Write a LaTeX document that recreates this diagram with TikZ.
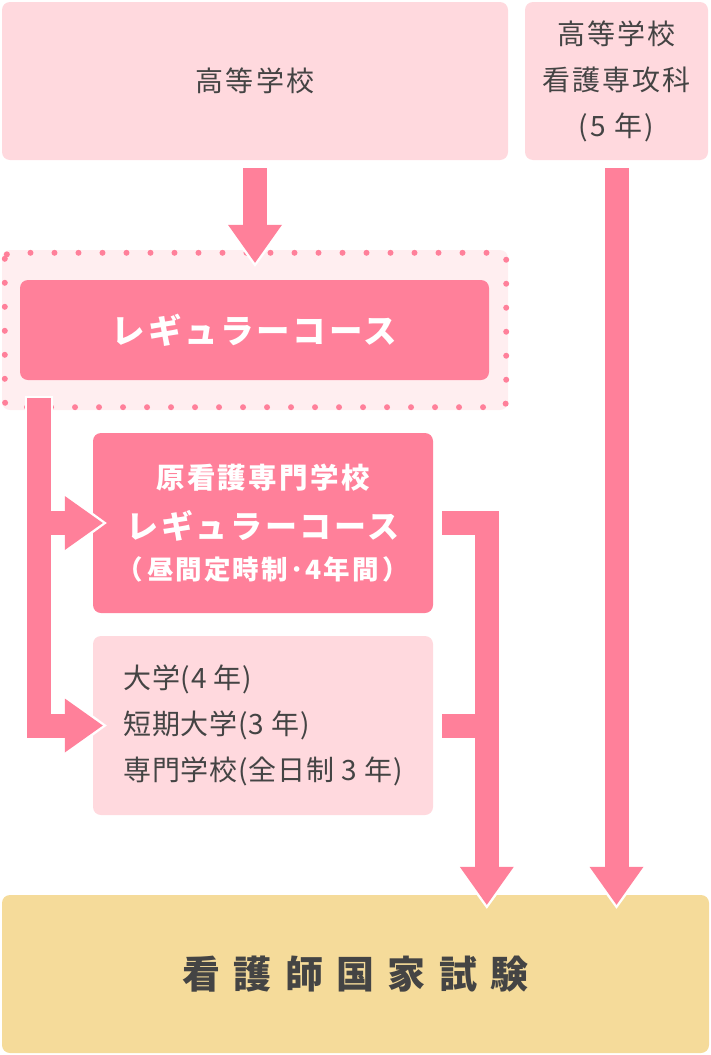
\documentclass[tikz,border=0pt]{standalone}
\usepackage{fontspec}
\usetikzlibrary{arrows.meta,calc}
\newfontfamily\jp[LetterSpace=8]{Noto Sans CJK JP}
\newfontfamily\jptight[LetterSpace=3]{Noto Sans CJK JP}
\newfontfamily\jpwide[LetterSpace=35]{Noto Sans CJK JP}
\definecolor{rose}{HTML}{FF809A}
\definecolor{blush}{HTML}{FFD9DE}
\definecolor{mist}{HTML}{FFEEF0}
\definecolor{sand}{HTML}{F5DB9A}
\definecolor{ink}{HTML}{444444}

\begin{document}
\begin{tikzpicture}[x=1pt, y=-1pt,
    every node/.style={align=center, inner sep=0pt, text=ink,
                       font=\jp\fontsize{28}{46}\selectfont},
    box/.style={fill=#1, rounded corners=8pt},
    box/.default=blush,
    headline/.style={font=\jp\bfseries\fontsize{#1}{46}\selectfont, text=white},
    dotline/.style={draw=rose, line width=6pt, line cap=round,
                    dash pattern=on 0pt off 24pt, rounded corners=6pt},
    bar/.style={draw=rose, line width=24pt, line join=miter,
                preaction={draw=white, line width=28pt}},
    fat/.style={draw=rose, line width=24pt, line join=miter,
                -{Triangle[width=54pt,length=38pt,line width=0pt]},
                preaction={draw=white, line width=28pt, shorten <=#1, shorten >=-4pt,
                           -{Triangle[width=64pt,length=44pt,line width=0pt]}}},
    fat/.default=0pt,
  ]
  \useasboundingbox (0,0) rectangle (711,1055);

  \node[box, minimum width=506pt, minimum height=158pt] (hs) at (255,81) {高等学校};
  \node[box, minimum width=183pt, minimum height=158pt] (ns) at (616.5,81) {高等学校\\看護専攻科\\(5 年)};

  \node[box=mist, minimum width=506pt, minimum height=160pt] (reg) at (255,330) {};
  \draw[dotline] ($(reg.north west)+(3,3)$) rectangle ($(reg.south east)+(-2,-3)$);
  \node[box=rose, headline=33.5, minimum width=469pt, minimum height=100pt] (rc) at (254.5,330) {レギュラーコース};

  \node[box=rose, headline=28.5, minimum width=340pt, minimum height=180pt] (gk) at (263,523)
    {原看護専門学校\\[4pt]{\fontsize{32}{46}\selectfont レギュラーコース}\\[-5pt]{\fontsize{26.5}{46}\selectfont （\hspace{4pt}昼間定時制･4年間\hspace{4pt}）}};
  \node[box, align=left, minimum width=340pt, minimum height=179pt,
        font=\jptight\fontsize{28}{46}\selectfont] (ot) at (263,725.5)
    {大学(4 年)\\短期大学(3 年)\\専門学校(全日制 3 年)};

  \node[box=sand, minimum width=707pt, minimum height=158pt,
        font=\jpwide\bfseries\fontsize{38}{46}\selectfont] (ex) at (355.5,974) {看護師国家試験};

  \draw[fat] ($(hs.south)+(0,8)$) -- ($(reg.north)+(0,13)$);
  \draw[fat] ($(ns.south)+(0,8)$) -- ($(ns.south |- ex.north)+(0,10)$);
  \draw[fat=-2pt] ($(reg.south west)+(37,-12)$) |- ($(ot.west)+(10,0)$);
  \draw[fat] ($(gk.west)+(-42,0)$) -- ($(gk.west)+(10,0)$);
  \draw[fat] ($(gk.east)+(9,0)$) -| ($(ex.north west)+(485,10)$);
  \draw[bar] ($(ot.east)+(9,0)$) -- ($(ot.east)+(42,0)$);
\end{tikzpicture}
\end{document}
